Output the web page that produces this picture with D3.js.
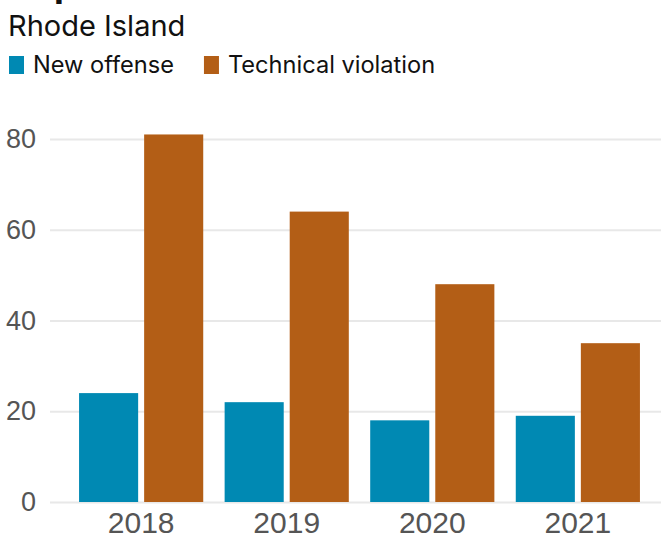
<!DOCTYPE html>
<html>
<head>
<meta charset="utf-8">
<script src="https://cdn.jsdelivr.net/npm/d3@7"></script>
<style>
  html, body { margin: 0; padding: 0; background: #fff; }
  svg { display: block; }
</style>
</head>
<body>
<div id="chart"></div>
<script>
// Revocations by type, Rhode Island
const years = ["2018", "2019", "2020", "2021"];
const seriesNames = ["New offense", "Technical violation"];
const newOffense = [24, 22, 18, 19];
const technicalViolation = [81, 64, 48, 35];
const yTicks = [0, 20, 40, 60, 80];
const colors = ["#0089b3", "#b35e16"];

const width = 661, height = 537;
const rows = years.map((y, i) => ({ year: y, values: [newOffense[i], technicalViolation[i]] }));

const svg = d3.select("#chart").append("svg")
  .attr("width", width).attr("height", height);

// Headline (runs past the top edge) and subtitle
svg.append("text")
  .attr("x", 8).attr("y", -3)
  .attr("font-family", "Inter, sans-serif")
  .attr("font-weight", 700).attr("font-size", 36)
  .attr("fill", "#111")
  .text("Supervision revocations");

svg.append("text")
  .attr("x", 8).attr("y", 36)
  .attr("font-family", "Inter, sans-serif")
  .attr("font-size", 29)
  .attr("fill", "#111")
  .text("Rhode Island");

// Legend
const legend = svg.append("g").attr("transform", "translate(9,56)");
let lx = 0;
seriesNames.forEach((name, i) => {
  const g = legend.append("g").attr("transform", `translate(${lx},0)`);
  g.append("rect").attr("width", 15).attr("height", 18).attr("fill", colors[i]);
  const t = g.append("text")
    .attr("x", 24).attr("y", 17)
    .attr("font-family", "Inter, sans-serif")
    .attr("font-size", 23.6)
    .attr("fill", "#111")
    .text(name);
  lx += 24 + t.node().getComputedTextLength() + 30;
});

// Scales
const y = d3.scaleLinear().domain([0, 80]).range([502, 139]);
const x0 = d3.scaleBand().domain(years).range([64.5, 654.5])
  .paddingInner(0.147).paddingOuter(0.1);
const x1 = d3.scaleBand().domain(d3.range(seriesNames.length))
  .range([0, x0.bandwidth()]).paddingInner(0.092);

// Gridlines and y labels
const yAxis = svg.append("g")
  .attr("transform", "translate(50,0)")
  .call(d3.axisLeft(y).tickValues(yTicks).tickSize(-(width - 50)).tickPadding(14).tickFormat(d3.format("d")));
yAxis.select(".domain").remove();
yAxis.selectAll(".tick line").attr("stroke", "#e8e8e8").attr("stroke-width", 2);
yAxis.selectAll(".tick text")
  .attr("font-family", "'Liberation Sans', Arial, sans-serif")
  .attr("font-size", 27).attr("fill", "#555");

// Bars
svg.append("g").selectAll("g")
  .data(rows).join("g")
  .attr("transform", d => `translate(${x0(d.year)},0)`)
  .selectAll("rect")
  .data(d => d.values.map((v, i) => ({ v, i })))
  .join("rect")
  .attr("x", d => x1(d.i))
  .attr("width", x1.bandwidth())
  .attr("y", d => y(d.v))
  .attr("height", d => y(0) - y(d.v))
  .attr("fill", d => colors[d.i]);

// Year labels
const xAxis = svg.append("g")
  .attr("transform", "translate(0,502)")
  .call(d3.axisBottom(x0).tickSize(0).tickPadding(10));
xAxis.select(".domain").remove();
xAxis.selectAll(".tick text")
  .attr("font-family", "'Liberation Sans', Arial, sans-serif")
  .attr("font-size", 30).attr("fill", "#555");
</script>
</body>
</html>
